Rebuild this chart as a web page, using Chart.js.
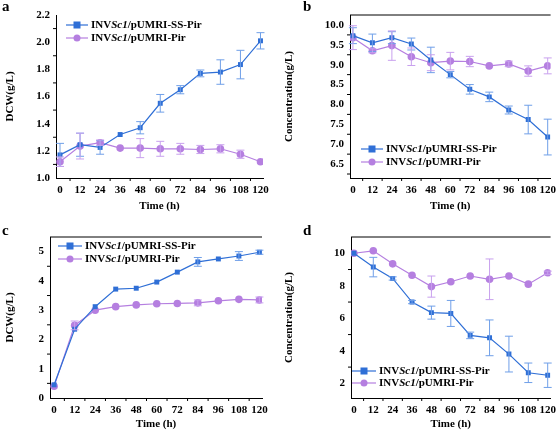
<!DOCTYPE html><html><head><meta charset="utf-8">
<script src="https://cdn.jsdelivr.net/npm/chart.js@4"></script>
<style>body{margin:0;background:#fff;width:558px;height:435px;position:relative;overflow:hidden}
.p{position:absolute}.lab{position:absolute;font:bold 15px "Liberation Serif";}</style></head><body>
<div class="p" style="left:0;top:0;width:279px;height:217px"><canvas id="ca"></canvas></div>
<div class="p" style="left:279px;top:0;width:279px;height:217px"><canvas id="cb"></canvas></div>
<div class="p" style="left:0;top:217px;width:279px;height:218px"><canvas id="cc"></canvas></div>
<div class="p" style="left:279px;top:217px;width:279px;height:218px"><canvas id="cd"></canvas></div>
<div class="lab" style="left:2px;top:-2px">a</div>
<div class="lab" style="left:303px;top:-2px">b</div>
<div class="lab" style="left:2px;top:222px">c</div>
<div class="lab" style="left:303px;top:222px">d</div>
<script>
const times=[0,12,24,36,48,60,72,84,96,108,120];
const xTicks=[0,12,24,36,48,60,72,84,96,108,120];
const seriesNames=["/pUMRI-SS-Pir","/pUMRI-Pir"];
const aSS=[1.17,1.245,1.225,1.32,1.37,1.55,1.65,1.77,1.78,1.835,2.01];
const aSSe=[0.085,0.085,0.05,0.01,0.045,0.065,0.03,0.025,0.09,0.105,0.06];
const aP=[1.12,1.235,1.26,1.22,1.22,1.215,1.215,1.21,1.215,1.175,1.12];
const aPe=[0.035,0.095,0.02,0.01,0.07,0.055,0.04,0.03,0.03,0.03,0.01];
const bSS=[9.73,9.55,9.68,9.52,9.12,8.75,8.38,8.19,7.86,7.62,7.18];
const bSSe=[0.2,0.22,0.15,0.15,0.32,0.08,0.12,0.12,0.1,0.36,0.45];
const bP=[9.68,9.35,9.48,9.2,9.05,9.09,9.08,8.97,9.02,8.84,8.97];
const bPe=[0.3,0.05,0.37,0.22,0.2,0.22,0.13,0.03,0.07,0.13,0.2];
const cSS=[0.45,2.35,3.12,3.72,3.75,3.96,4.3,4.65,4.75,4.85,4.98];
const cSSe=[0.05,0.05,0.05,0.05,0.05,0.05,0.05,0.15,0.05,0.15,0.07];
const cP=[0.4,2.48,3.0,3.12,3.18,3.22,3.23,3.25,3.32,3.37,3.35];
const cPe=[0.05,0.15,0.05,0.05,0.05,0.05,0.05,0.1,0.05,0.05,0.1];
const dSS=[10,9.15,8.45,7.0,6.35,6.3,4.95,4.8,3.8,2.65,2.5];
const dSSe=[0.05,0.6,0.1,0.1,0.4,0.8,0.2,1.1,1.1,0.6,0.75];
const dP=[10,10.15,9.35,8.65,7.95,8.25,8.6,8.4,8.6,8.1,8.8];
const dPe=[0.05,0.05,0.05,0.05,0.65,0.05,0.05,1.25,0.05,0.05,0.1];

const BLUE='#2f6fd6',PURP='#b57fe0',BLUEE='#6f9fe8',PURPE='#c8a0ee';
const FONT='Liberation Serif';
function mk(id,cfg){
  const errs=[cfg.ssE,cfg.pE];
  const plug={id:'extra',
    afterDatasetsDraw(ch){
      const c=ch.ctx,xs=ch.scales.x,ys=ch.scales.y;
      c.save();
      [0,1].forEach(di=>{
        const vals=ch.data.datasets[di].data;
        c.strokeStyle=di?PURPE:BLUEE;c.lineWidth=1;
        vals.forEach((pt,i)=>{
          const v=pt.y,e=errs[di][i];if(e<0.01*(ys.max-ys.min)) return;
          const x=xs.getPixelForValue(pt.x),y1=ys.getPixelForValue(v+e),y2=ys.getPixelForValue(v-e);
          c.beginPath();c.moveTo(x,y1);c.lineTo(x,y2);
          c.moveTo(x-4,y1);c.lineTo(x+4,y1);c.moveTo(x-4,y2);c.lineTo(x+4,y2);c.stroke();
        });
      });
      c.strokeStyle='#000';c.lineWidth=1;
      const b=ys.getPixelForValue(ys.min);
      for(let t=6;t<=114;t+=12){const x=xs.getPixelForValue(t);c.beginPath();c.moveTo(x,b);c.lineTo(x,b+3);c.stroke();}
      for(let t=cfg.yMinor0;t<ys.max;t+=cfg.yStep){if(t<=ys.min)continue;const y=ys.getPixelForValue(t);c.beginPath();c.moveTo(xs.left,y);c.lineTo(xs.left-3,y);c.stroke();}
      if(cfg.top){c.beginPath();c.moveTo(xs.left,ch.chartArea.top);c.lineTo(xs.right,ch.chartArea.top);c.stroke();}
      const L=cfg.leg;
      [0,1].forEach(di=>{
        const y=L.y+di*L.dy;
        c.strokeStyle=di?PURP:BLUE;c.fillStyle=di?PURP:BLUE;c.lineWidth=1.2;
        c.beginPath();c.moveTo(L.x,y);c.lineTo(L.x+L.w,y);c.stroke();
        const mx=L.x+L.w/2;
        if(di){c.beginPath();c.arc(mx,y,3.5,0,Math.PI*2);c.fill();}else c.fillRect(mx-3.5,y-3.5,7,7);
        c.fillStyle='#000';c.textBaseline='middle';
        let x=L.x+L.w+3;
        c.font='bold 11px "'+FONT+'"';c.fillText('INV',x,y);x+=c.measureText('INV').width;
        c.font='italic bold 11px "'+FONT+'"';c.fillText('Sc1',x,y);x+=c.measureText('Sc1').width;
        c.font='bold 11px "'+FONT+'"';c.fillText(seriesNames[di],x,y);
      });
      c.restore();
    }};
  new Chart(document.getElementById(id),{type:'line',
    data:{datasets:[
      {data:cfg.ss.map((v,i)=>({x:times[i],y:v})),borderColor:BLUE,backgroundColor:BLUE,borderWidth:1.2,pointStyle:'rect',pointRadius:3.5,pointBorderWidth:0},
      {data:cfg.p.map((v,i)=>({x:times[i],y:v})),borderColor:PURP,backgroundColor:PURP,borderWidth:1.2,pointStyle:'circle',pointRadius:3.8,pointBorderWidth:0}]},
    options:{responsive:true,maintainAspectRatio:false,animation:false,
      layout:{padding:{top:cfg.pt,right:cfg.pr,left:0,bottom:0}},
      plugins:{legend:{display:false},tooltip:{enabled:false}},
      scales:{
        x:{type:'linear',min:cfg.xmin,max:cfg.xmax,afterBuildTicks:s=>{s.ticks=xTicks.map(v=>({value:v}))},
          grid:{display:false,drawTicks:true,tickLength:4,tickColor:'#000'},border:{color:'#000',width:1},
          ticks:{color:'#000',font:{family:FONT,weight:'bold',size:11},maxRotation:0,padding:2,autoSkip:false},
          title:{display:true,text:'Time (h)',color:'#000',font:{family:FONT,weight:'bold',size:11},padding:{top:4}},
          afterFit:s=>{s.height=cfg.xh}},
        y:{min:cfg.ymin,max:cfg.ymax,
          afterBuildTicks:s=>{s.ticks=cfg.yt.map(v=>({value:v}))},
          grid:{display:false,drawTicks:true,tickLength:4,tickColor:'#000'},border:{color:'#000',width:1},
          ticks:{color:'#000',font:{family:FONT,weight:'bold',size:11},padding:2,callback:v=>v.toFixed(cfg.dec)},
          title:{display:true,text:cfg.yl,color:'#000',font:{family:FONT,weight:'bold',size:11},padding:{bottom:2}},
          afterFit:s=>{s.width=cfg.yw}}}},
    plugins:[plug]});
}
mk('ca',{ss:aSS,ssE:aSSe,p:aP,pE:aPe,xmin:-2.4,xmax:121.5,ymin:1.0,ymax:2.2,yt:[1.0,1.2,1.4,1.6,1.8,2.0,2.2],dec:1,yStep:0.2,yMinor0:1.1,
  yl:'DCW(g/L)',yw:56,xh:39,pt:15,pr:16,top:false,leg:{x:66,y:25,dy:13,w:22}});
mk('cb',{ss:bSS,ssE:bSSe,p:bP,pE:bPe,xmin:-1.8,xmax:121.8,ymin:6.15,ymax:10.25,yt:[6.5,7.0,7.5,8.0,8.5,9.0,9.5,10.0],dec:1,yStep:0.5,yMinor0:6.25,
  yl:'Concentration(g/L)',yw:71,xh:39,pt:15,pr:2,top:true,leg:{x:82,y:149,dy:13,w:22}});
mk('cc',{ss:cSS,ssE:cSSe,p:cP,pE:cPe,xmin:-2.4,xmax:121.5,ymin:0,ymax:5.5,yt:[0,1,2,3,4,5],dec:0,yStep:1,yMinor0:0.5,
  yl:'DCW(g/L)',yw:50,xh:37,pt:20,pr:17,top:true,leg:{x:58,y:29,dy:13,w:24}});
mk('cd',{ss:dSS,ssE:dSSe,p:dP,pE:dPe,xmin:-1.8,xmax:121.8,ymin:1.1,ymax:11,yt:[2,4,6,8,10],dec:0,yStep:2,yMinor0:1,
  yl:'Concentration(g/L)',yw:72,xh:37,pt:20,pr:2,top:true,leg:{x:73,y:154,dy:12,w:24}});
</script></body></html>
